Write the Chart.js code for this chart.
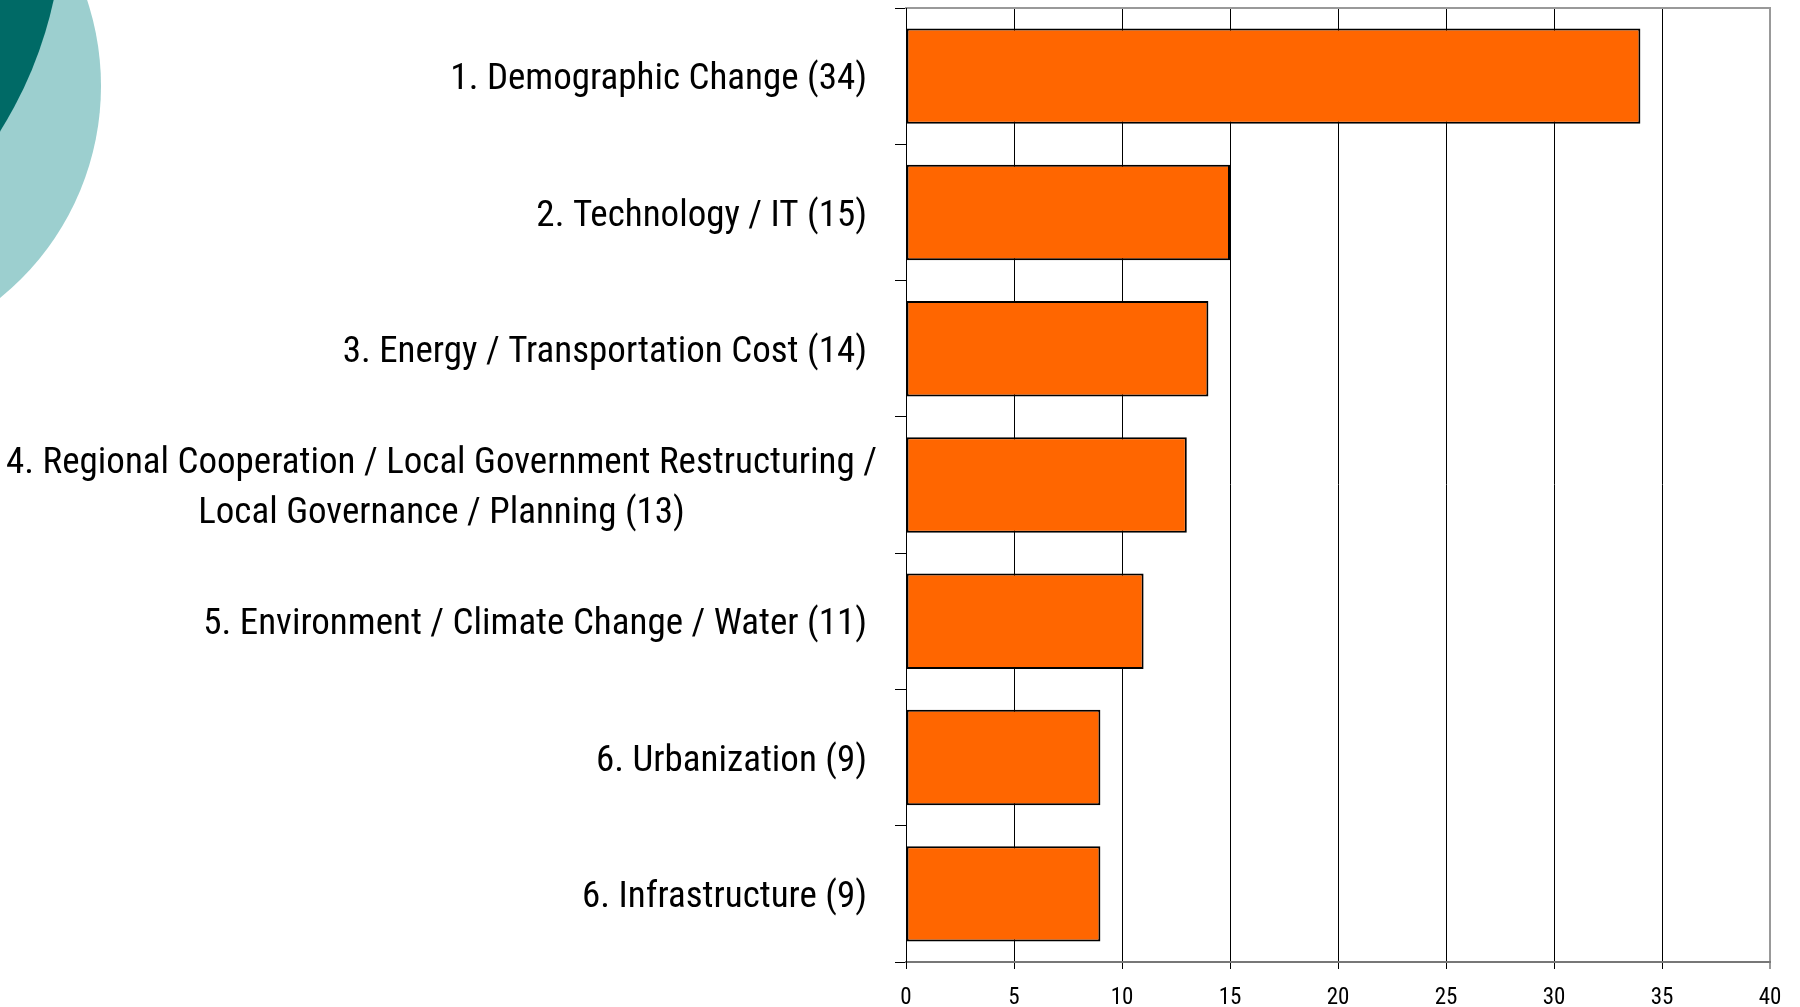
<!DOCTYPE html>
<html>
<head>
<meta charset="utf-8">
<script src="https://cdn.jsdelivr.net/npm/chart.js@4"></script>
<style>
  body { margin: 0; background: #fff; overflow: hidden; }
  #wrap { position: relative; width: 1800px; height: 1007px; }
  .blob { position: absolute; border-radius: 50%; }
  #light { left: -445px; top: -187px; width: 546px; height: 546px; background: #9ccfcf; }
  #dark { left: -757px; top: -497px; width: 820px; height: 820px; background: #006a66; }
  canvas { position: absolute; left: 0; top: 0; }
</style>
</head>
<body>
<div id="wrap">
  <div class="blob" id="light"></div>
  <div class="blob" id="dark"></div>
  <canvas id="canvas" width="1800" height="1007"></canvas>
</div>
<script>
var categories = [
    '1. Demographic Change (34)',
    '2. Technology / IT (15)',
    '3. Energy / Transportation Cost (14)',
    ['4. Regional Cooperation / Local Government Restructuring /', 'Local Governance / Planning (13)'],
    '5. Environment / Climate Change / Water (11)',
    '6. Urbanization (9)',
    '6. Infrastructure (9)'
];
var mentions = [34, 15, 14, 13, 11, 9, 9];
var xMin = 0, xMax = 40, xStep = 5;

var fontName = "'Roboto Condensed', 'DejaVu Sans Condensed', sans-serif";
var labelSize = 37;

// category labels: right aligned, wrapped ones centred (like the original)
let categoryLabels = {
    id: 'categoryLabels',
    afterDraw(chart) {
        let sc = chart.scales.y;
        let ctx = chart.ctx;
        let anchor = sc.right - 39;
        let half = labelSize * 0.711 / 2; // half cap height, to centre on the band
        ctx.save();
        ctx.font = labelSize + 'px ' + fontName;
        ctx.fillStyle = '#000';
        ctx.textBaseline = 'alphabetic';
        chart.data.labels.forEach(function (c, i) {
            let cy = sc.getPixelForTick(i);
            if (!Array.isArray(c)) {
                ctx.textAlign = 'right';
                ctx.fillText(c, anchor, cy + half);
                return;
            }
            ctx.textAlign = 'center';
            let widest = Math.max(...c.map(l => ctx.measureText(l).width));
            let cx = anchor + 10 - widest / 2;
            c.forEach(function (line, k) {
                ctx.fillText(line, cx, cy + half + (k - (c.length - 1) / 2) * 50);
            });
        });
        ctx.restore();
    }
};

var config = {
    type: 'bar',
    data: {
        labels: categories,
        datasets: [{
            data: mentions,
            backgroundColor: '#ff6600',
            borderColor: '#000',
            borderWidth: 2,
            borderSkipped: false,
            categoryPercentage: 1,
            barPercentage: 0.7
        }]
    },
    options: {
        indexAxis: 'y',
        responsive: false,
        animation: false,
        layout: { padding: { top: 8, right: 30, left: 0, bottom: 0 } },
        plugins: { legend: { display: false }, tooltip: { enabled: false } },
        scales: {
            x: {
                type: 'linear',
                position: 'bottom',
                min: xMin,
                max: xMax,
                ticks: {
                    stepSize: xStep,
                    color: '#000',
                    padding: 15,
                    maxRotation: 0,
                    font: { family: fontName, size: 23 }
                },
                grid: {
                    color: c => c.index === 8 ? '#999' : '#000',
                    lineWidth: c => c.index === 8 ? 2 : 1,
                    tickLength: 7
                },
                border: { color: '#777', width: 2 },
                afterFit: s => { s.height = 45; }
            },
            x2: {
                type: 'linear',
                position: 'top',
                min: xMin,
                max: xMax,
                ticks: { display: false },
                grid: { display: false, drawTicks: false },
                border: { display: true, color: '#999', width: 2 },
                afterFit: s => { s.height = 0; }
            },
            y: {
                ticks: { display: false },
                grid: {
                    drawOnChartArea: false,
                    color: '#000',
                    tickLength: 11
                },
                border: { color: '#000', width: 1 },
                afterFit: s => { s.width = 906; s.paddingTop = 0; s.paddingBottom = 0; }
            }
        }
    },
    plugins: [categoryLabels]
};

function start() {
    var ctx = document.getElementById('canvas').getContext('2d');
    new Chart(ctx, config);
}
start();
</script>
</body>
</html>
